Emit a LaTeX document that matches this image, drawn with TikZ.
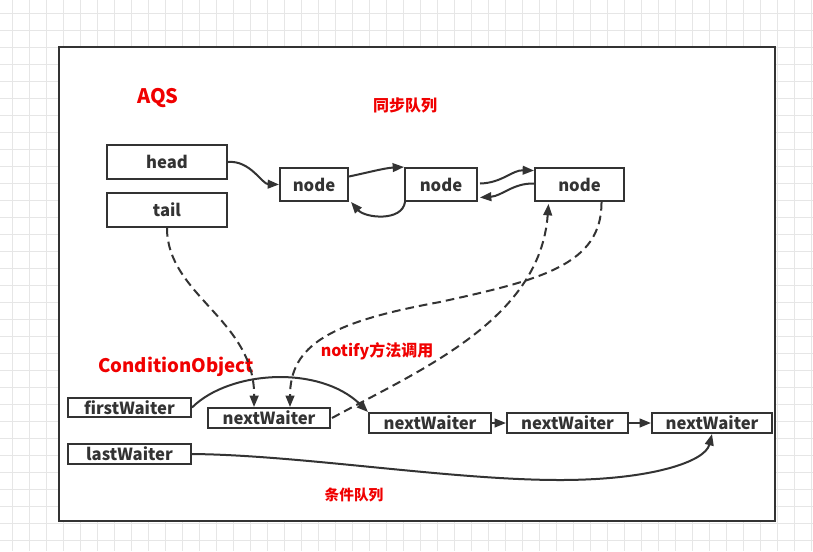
\documentclass[tikz,border=0pt]{standalone}
\usepackage{fontspec}
\setmainfont{Noto Sans CJK SC}
\usetikzlibrary{arrows.meta,calc}
\definecolor{ln}{HTML}{333333}
\definecolor{rd}{HTML}{F00000}
\definecolor{gridc}{HTML}{E6E6E6}
\begin{document}
\begin{tikzpicture}[x=0.75pt,y=-0.75pt,
  box/.style={draw=ln,line width=1.5pt,fill=white,inner sep=0pt,text=ln,font=\bfseries\fontsize{12.5}{14}\selectfont},
  lbl/.style={text=rd,font=\bfseries\fontsize{12}{14}\selectfont,inner sep=0pt},
  con/.style={draw=ln,line width=1.5pt,-{Triangle[length=8.5pt,width=6.5pt]}},
  dsh/.style={con,dash pattern=on 6.5pt off 3.8pt}]
\useasboundingbox (0,0) rectangle (813,551);
\fill[white] (0,0) rectangle (813,551);
\foreach \i in {0,...,47} \draw[gridc,line width=0.75pt] ({12+17*\i},0) -- ({12+17*\i},551);
\foreach \j in {0,...,31} \draw[gridc,line width=0.75pt] (0,{13+17*\j}) -- (813,{13+17*\j});
\draw[ln,line width=1.5pt,fill=white] (59,47) rectangle (775,521);

% labels
\node[lbl,font=\bfseries\fontsize{15}{18}\selectfont] (aqs) at (158,98) {AQS};
\node[lbl] (sync) at (405,105) {同步队列};
\node[lbl,font=\bfseries\fontsize{14}{17}\selectfont] (co) at (176,367) {ConditionObject};
\node[lbl] (notify) at (377,351) {notify方法调用};
\node[lbl,font=\bfseries\fontsize{11}{13}\selectfont] (cond) at (354,495) {条件队列};

% AQS boxes
\node[box,minimum width=90pt,minimum height=25.5pt] (head) at (167,162) {head};
\node[box,minimum width=90pt,minimum height=25.5pt] (tail) at (167,210) {tail};
\node[box,minimum width=51pt,minimum height=24.75pt] (n1) at (314,184.5) {node};
\node[box,minimum width=54pt,minimum height=24.75pt] (n2) at (441,184.5) {node};
\node[box,minimum width=66.75pt,minimum height=24.75pt] (n3) at (579.5,184.5) {node};

% condition boxes
\node[box,minimum width=92.25pt,minimum height=14.25pt] (fw) at (129.5,407.5) {firstWaiter};
\node[box,minimum width=92.25pt,minimum height=15pt] (lw) at (129.5,454) {lastWaiter};
\node[box,minimum width=91.5pt,minimum height=15pt] (w1) at (269,418) {nextWaiter};
\node[box,minimum width=91.5pt,minimum height=15pt] (w2) at (430,423) {nextWaiter};
\node[box,minimum width=90.75pt,minimum height=15pt] (w3) at (567.5,423) {nextWaiter};
\node[box,minimum width=90pt,minimum height=15pt] (w4) at (712,423) {nextWaiter};

% sync queue connectors
\draw[con] (head.east) .. controls (250,160) and (262,184) .. (n1.west);
\draw[con] ($(n1.east)+(0,-8)$) .. controls (370,172) and (385,168) .. (n2.north west);
\draw[con] ($(n2.south west)+(1,0)$) .. controls (402,222) and (365,218) .. ($(n1.south east)+(2,0)$);
\draw[con] ($(n2.east)+(2,-1)$) .. controls (502,183) and (512,170) .. ($(n3.west)+(0,-14)$);
\draw[con] ($(n3.west)+(0,-1)$) .. controls (513,183) and (502,196) .. ($(n2.east)+(2,13)$);

% dashed connectors
\coordinate (w1a) at ($(w1.north)+(-15,0)$);
\coordinate (w1b) at ($(w1.north)+(21,0)$);
\draw[dsh] (tail.south) .. controls (167,295) and (255,320) .. (w1a);
\draw[dsh] ($(n3.south)+(22,0)$) .. controls (602,265) and (540,280) .. (440,302) .. controls (330,322) and (290,345) .. (w1b);
\draw[dsh] ($(w1.east)+(1,0)$) .. controls (420,370) and (540,320) .. ($(n3.south)+(-31,2)$);

% condition queue connectors
\draw[con] (fw.east) .. controls (230,370) and (320,365) .. (w2.north west);
\draw[con] (w2.east) -- (w3.west);
\draw[con] (w3.east) -- (w4.west);
\draw[con] (lw.east) .. controls (300,455) and (450,480) .. (560,480) .. controls (650,480) and (705,462) .. (w4.south);
\end{tikzpicture}
\end{document}
